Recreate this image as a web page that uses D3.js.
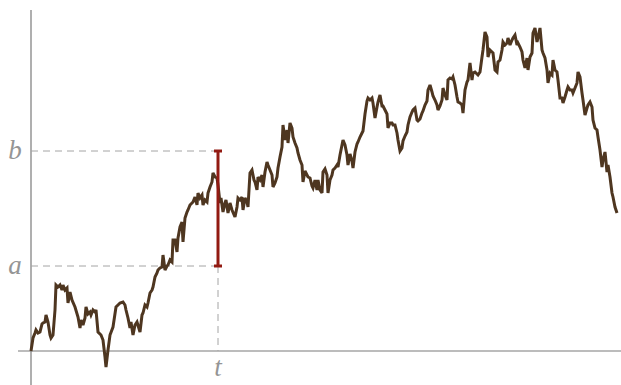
<!DOCTYPE html>
<html lang="en">
<head>
<meta charset="utf-8">
<title>Brownian path between a and b</title>
<script src="https://d3js.org/d3.v7.min.js"></script>
<style>
  body { margin: 0; background: #fff; }
  .axis { stroke: #7a7a7a; stroke-width: 1.2px; }
  .guide { stroke: #a4a4a4; stroke-width: 1px; stroke-dasharray: 7 5; }
  .path { fill: none; stroke: #4e3620; stroke-width: 3px; stroke-linejoin: miter; stroke-miterlimit: 3; }
  .bar { stroke: #921a12; stroke-width: 3px; }
  .lbl { font-family: "Liberation Serif", "DejaVu Serif", serif; font-style: italic; font-size: 27px; fill: #959595; }
</style>
</head>
<body>
<script>
// sample path: [step, value]
var walk = [
  [0,0.00],[2,0.13],[4,0.18],[5,0.21],[7,0.18],[9,0.19],[11,0.27],[12,0.28],[14,0.29],[15,0.36],
  [17,0.29],[19,0.16],[20,0.13],[22,0.16],[24,0.41],[25,0.66],[27,0.64],[29,0.66],[31,0.61],[32,0.66],
  [34,0.61],[36,0.63],[37,0.48],[39,0.59],[41,0.51],[44,0.44],[47,0.34],[49,0.23],[50,0.31],[52,0.26],
  [54,0.33],[55,0.44],[57,0.37],[59,0.39],[60,0.36],[62,0.41],[64,0.39],[65,0.41],[67,0.19],[70,0.16],
  [72,0.11],[74,-0.06],[75,-0.16],[77,0.01],[79,0.16],[82,0.24],[85,0.44],[87,0.46],[89,0.48],[92,0.49],
  [94,0.46],[95,0.41],[97,0.33],[99,0.23],[100,0.29],[102,0.16],[104,0.26],[106,0.29],[109,0.19],[111,0.36],
  [112,0.38],[114,0.46],[116,0.44],[117,0.48],[119,0.58],[121,0.61],[122,0.64],[124,0.74],[126,0.78],[127,0.81],
  [129,0.83],[131,0.84],[132,0.96],[134,0.81],[136,0.85],[137,0.86],[139,0.91],[141,0.89],[142,1.11],[144,1.11],
  [146,0.99],[147,1.13],[149,1.24],[151,1.29],[152,1.09],[154,1.33],[156,1.39],[157,1.41],[159,1.46],[161,1.48],
  [162,1.49],[164,1.54],[166,1.46],[167,1.58],[169,1.53],[171,1.56],[172,1.46],[174,1.51],[176,1.49],[177,1.58],
  [179,1.64],[181,1.69],[182,1.78],[184,1.74],[186,1.73],[187,1.66],[189,1.48],[190,1.53],[192,1.39],[194,1.48],
  [195,1.51],[197,1.38],[199,1.48],[201,1.41],[204,1.34],[206,1.44],[207,1.53],[209,1.51],[211,1.54],[212,1.41],
  [214,1.53],[216,1.49],[217,1.44],[219,1.78],[221,1.81],[223,1.71],[224,1.69],[226,1.61],[227,1.74],[229,1.71],
  [231,1.76],[232,1.64],[234,1.79],[236,1.89],[237,1.86],[239,1.81],[241,1.76],[242,1.64],[244,1.68],[246,1.74],
  [247,1.83],[249,1.94],[251,2.04],[252,2.26],[254,2.11],[256,2.21],[257,2.08],[259,2.28],[261,2.23],[262,2.14],
  [264,2.08],[266,2.03],[267,1.98],[269,1.91],[271,1.86],[272,1.69],[274,1.80],[276,1.76],[277,1.74],[279,1.73],
  [281,1.65],[282,1.63],[284,1.71],[286,1.61],[287,1.71],[289,1.61],[291,1.58],[292,1.79],[294,1.82],[296,1.76],
  [297,1.58],[299,1.71],[301,1.76],[302,1.81],[304,1.83],[306,1.86],[307,1.84],[309,1.96],[311,2.06],[312,2.11],
  [314,2.06],[316,1.96],[317,1.86],[319,1.97],[321,1.90],[322,1.83],[324,1.99],[326,2.07],[327,2.09],[329,2.14],
  [331,2.18],[332,2.20],[334,2.37],[336,2.50],[337,2.53],[339,2.51],[341,2.53],[342,2.48],[344,2.33],[346,2.44],
  [347,2.49],[349,2.56],[351,2.45],[352,2.45],[354,2.41],[356,2.37],[357,2.23],[359,2.28],[361,2.28],[362,2.26],
  [364,2.26],[366,2.18],[367,2.11],[369,2.00],[371,2.03],[372,2.10],[374,2.15],[376,2.19],[377,2.26],[379,2.34],
  [381,2.39],[382,2.41],[384,2.43],[386,2.31],[387,2.30],[389,2.32],[391,2.38],[392,2.40],[394,2.46],[396,2.50],
  [397,2.61],[399,2.66],[401,2.59],[402,2.55],[404,2.51],[406,2.46],[407,2.41],[409,2.45],[411,2.51],[412,2.63],
  [414,2.56],[416,2.51],[417,2.71],[419,2.73],[421,2.72],[422,2.74],[424,2.66],[426,2.54],[427,2.49],[429,2.48],
  [431,2.46],[432,2.38],[434,2.61],[436,2.69],[437,2.71],[439,2.88],[441,2.71],[442,2.78],[444,2.79],[446,2.77],
  [447,2.76],[449,2.79],[451,2.94],[452,3.01],[454,3.19],[456,3.14],[457,2.94],[459,3.01],[461,2.99],[462,2.98],
  [464,2.81],[466,2.79],[467,2.89],[469,2.91],[471,3.01],[472,3.09],[474,3.06],[476,3.08],[477,3.13],[479,3.06],
  [481,3.11],[482,3.13],[484,3.16],[486,3.06],[487,3.08],[489,3.04],[491,2.99],[492,2.91],[494,2.83],[496,2.93],
  [497,2.81],[499,2.94],[501,2.98],[502,3.18],[504,3.23],[506,3.09],[507,3.13],[509,3.23],[511,3.01],[512,2.98],
  [514,2.93],[516,2.81],[517,2.68],[519,2.78],[521,2.76],[522,2.91],[524,2.81],[526,2.79],[527,2.71],[529,2.53],
  [531,2.53],[532,2.48],[534,2.54],[536,2.61],[537,2.64],[539,2.61],[541,2.61],[542,2.58],[544,2.63],[546,2.68],
  [547,2.79],[549,2.74],[551,2.58],[552,2.51],[554,2.36],[556,2.43],[557,2.46],[559,2.49],[561,2.44],[562,2.31],
  [564,2.23],[566,2.21],[567,2.14],[569,2.01],[571,1.84],[572,1.91],[574,1.99],[576,1.79],[577,1.86],[579,1.74],
  [581,1.58],[582,1.54],[584,1.44],[586,1.38]
];

var levelA = 0.85, levelB = 2.00;   // the two levels a < b
var hitStep = 187;                  // the time t
var labels = { a: "a", b: "b", t: "t" };

var W = 621, H = 385;
var x = d3.scaleLinear().domain([0, 586]).range([31, 617]);
var y = d3.scaleLinear().domain([0, 3.41]).range([351, 10]);

var svg = d3.select("body").append("svg")
  .attr("width", W).attr("height", H);

// axes (plain lines, no ticks)
svg.append("line").attr("class", "axis")
  .attr("x1", x(0)).attr("x2", x(0))
  .attr("y1", y(3.41)).attr("y2", H);
svg.append("line").attr("class", "axis")
  .attr("x1", x(-13)).attr("x2", W)
  .attr("y1", y(0)).attr("y2", y(0));

// dashed guides
[levelA, levelB].forEach(function(v) {
  svg.append("line").attr("class", "guide")
    .attr("x1", x(0)).attr("x2", x(hitStep))
    .attr("y1", y(v)).attr("y2", y(v));
});
svg.append("line").attr("class", "guide")
  .attr("x1", x(hitStep)).attr("x2", x(hitStep))
  .attr("y1", y(levelA)).attr("y2", y(0));

// the path
var line = d3.line()
  .x(function(d) { return x(d[0]); })
  .y(function(d) { return y(d[1]); });
svg.append("path").attr("class", "path").datum(walk).attr("d", line);

// red interval at t
var bx = x(hitStep);
svg.append("line").attr("class", "bar")
  .attr("x1", bx).attr("x2", bx).attr("y1", y(levelA)).attr("y2", y(levelB));
[levelA, levelB].forEach(function(v) {
  svg.append("line").attr("class", "bar")
    .attr("x1", bx - 4).attr("x2", bx + 4).attr("y1", y(v)).attr("y2", y(v));
});

// labels
svg.append("text").attr("class", "lbl").attr("x", 15).attr("y", y(levelB) + 8)
  .attr("text-anchor", "middle").text(labels.b);
svg.append("text").attr("class", "lbl").attr("x", 15).attr("y", y(levelA) + 8)
  .attr("text-anchor", "middle").text(labels.a);
svg.append("text").attr("class", "lbl").attr("x", bx).attr("y", y(0) + 25)
  .attr("text-anchor", "middle").text(labels.t);
</script>
</body>
</html>
